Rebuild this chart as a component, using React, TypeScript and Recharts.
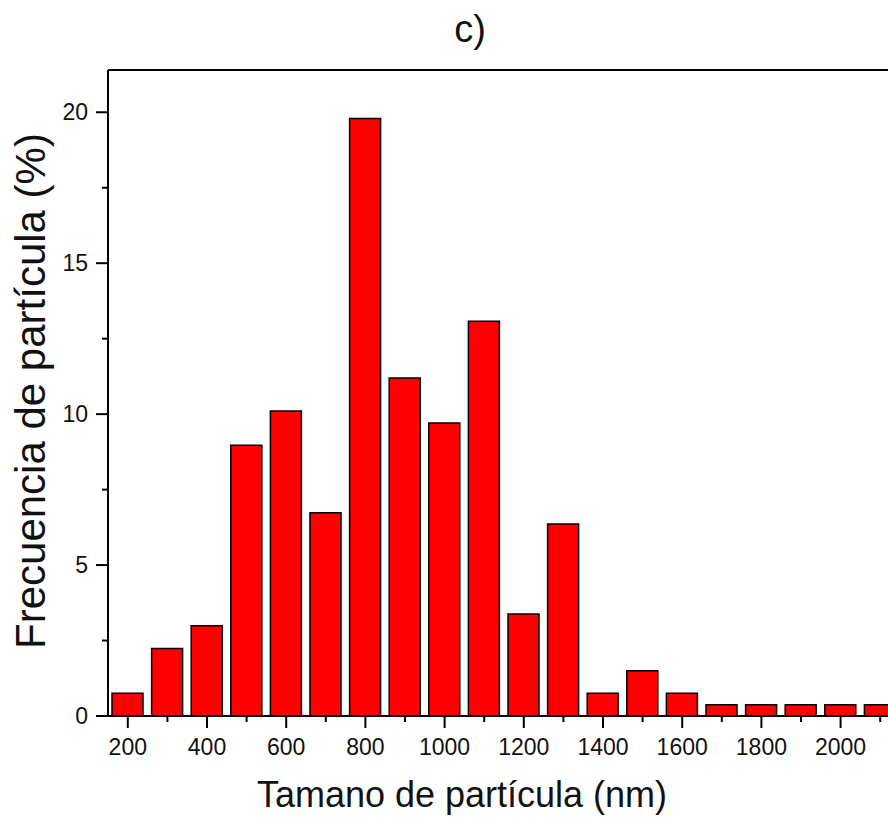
import React from 'react';
import { BarChart, Bar, XAxis, YAxis, Label, ReferenceLine } from 'recharts';

const sizes = [200, 300, 400, 500, 600, 700, 800, 900, 1000, 1100, 1200, 1300, 1400, 1500, 1600, 1700, 1800, 1900, 2000, 2100];
const freqs = [0.75, 2.24, 2.99, 8.97, 10.1, 6.73, 19.79, 11.2, 9.71, 13.08, 3.38, 6.36, 0.75, 1.5, 0.75, 0.37, 0.37, 0.37, 0.37, 0.37];
const xTicks = [200, 300, 400, 500, 600, 700, 800, 900, 1000, 1100, 1200, 1300, 1400, 1500, 1600, 1700, 1800, 1900, 2000, 2100];
const yTicks = [0, 2.5, 5, 7.5, 10, 12.5, 15, 17.5, 20];
const yMax = 21.4;

const title = 'c)';
const xTitle = 'Tamano de partícula (nm)';
const yTitle = 'Frecuencia de partícula (%)';

const data = sizes.map((s, i) => ({ size: s, freq: freqs[i] }));

const FONT = 'Arial, "Liberation Sans", sans-serif';

const XTick = (props: any) => {
  const { x, y, payload } = props;
  const major = payload.value % 200 === 0;
  return (
    <g>
      <line x1={x} x2={x} y1={y} y2={y + (major ? 12 : 6)} stroke="#000" strokeWidth={2} />
      {major && (
        <text x={x} y={y + 39} textAnchor="middle" fontSize={23} fontFamily={FONT} fill="#111">
          {payload.value}
        </text>
      )}
    </g>
  );
};

const YTick = (props: any) => {
  const { x, y, payload } = props;
  const major = payload.value % 5 === 0;
  return (
    <g>
      <line x1={x - (major ? 12 : 6)} x2={x} y1={y} y2={y} stroke="#000" strokeWidth={2} />
      {major && (
        <text x={x - 20} y={y + 8} textAnchor="end" fontSize={23} fontFamily={FONT} fill="#111">
          {payload.value}
        </text>
      )}
    </g>
  );
};

const YTitle = (props: any) => {
  const { viewBox } = props;
  const cy = viewBox.y + viewBox.height / 2 - 2;
  const cx = 45;
  return (
    <text x={cx} y={cy} textAnchor="middle" fontSize={42} fontFamily={FONT} fill="#111" transform={`rotate(-90, ${cx}, ${cy})`}>
      {yTitle}
    </text>
  );
};

const XTitle = (props: any) => {
  const { viewBox } = props;
  return (
    <text x={462} y={viewBox.y + 91} textAnchor="middle" fontSize={36} fontFamily={FONT} fill="#111">
      {xTitle}
    </text>
  );
};

const TopTitle = (props: any) => {
  const { viewBox } = props;
  return (
    <text x={470} y={viewBox.y - 28} textAnchor="middle" fontSize={38} fontFamily={FONT} fill="#111">
      {title}
    </text>
  );
};

export default function App() {
  return (
    <div style={{ position: 'absolute', left: 0, top: 0, width: 888, height: 818, overflow: 'hidden', background: '#fff' }}>
      <BarChart width={920} height={818} data={data} margin={{ top: 70, right: 20, bottom: 0, left: 0 }}>
        <XAxis
          type="number"
          dataKey="size"
          domain={[150, 2150]}
          allowDataOverflow
          ticks={xTicks}
          interval={0}
          height={102}
          tickSize={0}
          tickMargin={0}
          tickLine={false}
          tick={<XTick />}
          axisLine={{ stroke: '#000', strokeWidth: 2 }}
        >
          <Label content={<XTitle />} />
        </XAxis>
        <YAxis
          type="number"
          domain={[0, yMax]}
          allowDataOverflow
          ticks={yTicks}
          interval={0}
          width={108}
          tickSize={0}
          tickMargin={0}
          tickLine={false}
          tick={<YTick />}
          axisLine={{ stroke: '#000', strokeWidth: 2 }}
        >
          <Label content={<YTitle />} />
        </YAxis>
        <ReferenceLine y={yMax} stroke="#000" strokeWidth={2} ifOverflow="visible">
          <Label content={<TopTitle />} />
        </ReferenceLine>
        <Bar dataKey="freq" fill="#ff0000" stroke="#000" strokeWidth={1.5} barSize={31} isAnimationActive={false} />
      </BarChart>
    </div>
  );
}
